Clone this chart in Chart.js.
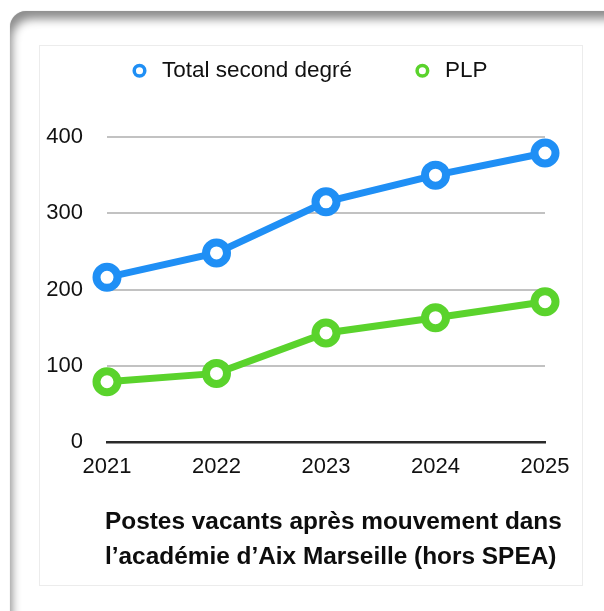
<!DOCTYPE html>
<html>
<head>
<meta charset="utf-8">
<script src="https://cdn.jsdelivr.net/npm/chart.js@4.4.1/dist/chart.umd.min.js"></script>
<style>
  html, body { margin: 0; padding: 0; background: #fff; }
  body { width: 604px; height: 611px; position: relative; overflow: hidden; }
  #card { position: absolute; left: 10px; top: 11px; width: 660px; height: 680px;
          border-radius: 16px; background: #fff;
          box-shadow: inset 6px 12px 10px -4px rgba(0,0,0,0.45), 0 0 1px rgba(0,0,0,0.3); }
  #panel { position: absolute; left: 39px; top: 45px; width: 542px; height: 539px;
           border: 1px solid #ececec; background: #fff; }
  #wrap { position: absolute; left: 0; top: 0; width: 604px; height: 611px; }
</style>
</head>
<body>
<div id="card"></div>
<div id="panel"></div>
<div id="wrap"><canvas id="c" width="604" height="611"></canvas></div>
<script>
const years = ['2021', '2022', '2023', '2024', '2025'];
const totalSecondDegre = [216, 248, 315, 350, 379];
const plp = [79, 90, 143, 163, 184];
const seriesNames = ['Total second degré', 'PLP'];
const yTicks = [0, 100, 200, 300, 400];
const titleLines = ['Postes vacants après mouvement dans', 'l’académie d’Aix Marseille (hors SPEA)'];

const BLUE = '#1f8ff5';
const GREEN = '#5ad32c';
const FONT = "'Liberation Sans', Arial, Helvetica, sans-serif";

// place legend and title like the reference (legend starts at x≈128, title left-aligned at x≈105)
const placeBlocks = {
  id: 'placeBlocks',
  afterLayout(chart) {
    const lg = chart.legend;
    if (lg) { lg.left = 128.25 - lg.options.labels.padding; lg.right = 604; lg.top = 0.5; }
    const tb = chart.titleBlock;
    if (tb) { tb.left = 105; tb.right = 604; }
  }
};

new Chart(document.getElementById('c'), {
  type: 'line',
  data: {
    labels: years,
    datasets: [
      { label: seriesNames[0], data: totalSecondDegre, borderColor: BLUE, backgroundColor: BLUE,
        borderWidth: 7, pointRadius: 10.5, pointBorderWidth: 8, pointBackgroundColor: '#fff',
        pointBorderColor: BLUE, pointHoverRadius: 10.5, tension: 0, clip: false },
      { label: seriesNames[1], data: plp, borderColor: GREEN, backgroundColor: GREEN,
        borderWidth: 7, pointRadius: 10.5, pointBorderWidth: 8, pointBackgroundColor: '#fff',
        pointBorderColor: GREEN, pointHoverRadius: 10.5, tension: 0, clip: false }
    ]
  },
  plugins: [placeBlocks],
  options: {
    responsive: false,
    animation: false,
    devicePixelRatio: 1,
    layout: { padding: { left: 40, right: 59, top: 0, bottom: 36.5 } },
    plugins: {
      tooltip: { enabled: false },
      legend: {
        display: true, position: 'top', align: 'start',
        labels: {
          usePointStyle: true, pointStyle: 'circle', boxWidth: 22.5, boxHeight: 7.5,
          padding: 59, color: '#111', font: { family: FONT, size: 22.5 },
          generateLabels: (chart) => Chart.defaults.plugins.legend.labels.generateLabels(chart)
            .map(l => Object.assign(l, { lineWidth: 3.5 }))
        }
      },
      title: {
        display: true, position: 'bottom', align: 'start',
        text: titleLines, color: '#0d0d0d',
        font: { family: FONT, size: 24.4, weight: 'bold', lineHeight: 35 / 24.4 },
        padding: { top: 0, bottom: 0 }
      }
    },
    scales: {
      x: {
        type: 'category', position: 'bottom', offset: false,
        grid: { display: false, drawTicks: false },
        border: { display: true, color: '#2a2a2a', width: 2.5 },
        ticks: { color: '#111', font: { family: FONT, size: 22 }, padding: 12, maxRotation: 0, autoSkip: false },
        afterFit: (s) => { s.height = 62.5; }
      },
      xTop: {
        type: 'category', position: 'top', display: true, offset: false,
        grid: { display: false, drawTicks: false }, border: { display: false },
        ticks: { display: false },
        afterFit: (s) => { s.height = 45.5; }
      },
      y: {
        type: 'linear', position: 'left', min: 0, max: 400,
        afterBuildTicks: (s) => { s.ticks = yTicks.map(v => ({ value: v })); },
        grid: { display: true, color: '#c2c2c2', lineWidth: 2, drawTicks: false },
        border: { display: false },
        ticks: { color: '#111', font: { family: FONT, size: 22 }, padding: 24 },
        afterFit: (s) => { s.width = 67; }
      }
    }
  }
});
</script>
</body>
</html>
